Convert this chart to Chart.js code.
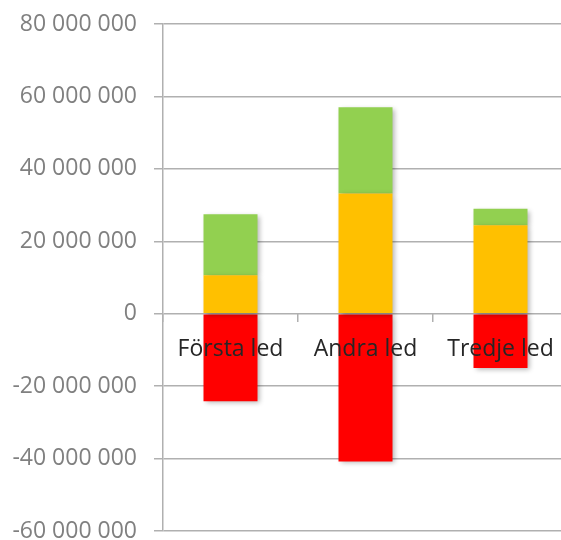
<!DOCTYPE html>
<html>
<head>
<meta charset="utf-8">
<script src="https://cdn.jsdelivr.net/npm/chart.js@4"></script>
<style>
  html, body { margin: 0; padding: 0; background: #fff; overflow: hidden; }
  #wrap { width: 570px; height: 540px; }
</style>
</head>
<body>
<div id="wrap"><canvas id="chart" width="570" height="540"></canvas></div>
<script>
// Categories and series values (millions)
const categories = ["Första led", "Andra led", "Tredje led"];
const orangeValues = [10.6, 33.2, 24.4];
const greenValues = [16.9, 23.8, 4.6];
const redValues = [-24.2, -40.8, -15.0];

// Axis settings
const yMin = -60000000;
const yMax = 80000000;
const yStep = 20000000;

const toUnits = arr => arr.map(v => v * 1000000);

// Format like "80 000 000"
function formatNumber(v) {
    const s = Math.abs(v).toString().replace(/\B(?=(\d{3})+(?!\d))/g, " ");
    return (v < 0 ? "-" : "") + s;
}

// Soft shadow behind bars
const barShadow = {
    id: "barShadow",
    beforeDatasetsDraw(chart) {
        const c = chart.ctx;
        c.save();
        c.shadowColor = "rgba(0,0,0,0.30)";
        c.shadowBlur = 5;
        c.shadowOffsetX = 2;
        c.shadowOffsetY = 2;
    },
    afterDatasetsDraw(chart) {
        chart.ctx.restore();
    }
};

const ctx = document.getElementById("chart");

new Chart(ctx, {
    type: "bar",
    data: {
        labels: categories,
        datasets: [
            { label: "Orange", data: toUnits(orangeValues), backgroundColor: "#FFC000" },
            { label: "Grön", data: toUnits(greenValues), backgroundColor: "#92D050" },
            { label: "Röd", data: toUnits(redValues), backgroundColor: "#FF0000" }
        ]
    },
    plugins: [barShadow],
    options: {
        responsive: false,
        animation: false,
        layout: { padding: { left: 0, top: 24, right: 2, bottom: 9 } },
        datasets: {
            bar: { barPercentage: 0.4, categoryPercentage: 1.0 }
        },
        plugins: {
            legend: { display: false },
            tooltip: { enabled: false }
        },
        scales: {
            x: {
                stacked: true,
                position: { y: 0 },
                offset: true,
                grid: {
                    offset: true,
                    drawOnChartArea: false,
                    drawTicks: true,
                    tickLength: 8,
                    color: "#b0b0b0",
                    lineWidth: 1.5
                },
                border: { display: false },
                ticks: {
                    z: 1,
                    color: "#262626",
                    padding: 14,
                    maxRotation: 0,
                    font: { family: "Open Sans", size: 23 }
                },
                afterFit(s) {
                    s.paddingLeft = 0;
                    s.paddingRight = 0;
                }
            },
            y: {
                stacked: true,
                min: yMin,
                max: yMax,
                grid: {
                    color: "#b0b0b0",
                    lineWidth: 1.5,
                    tickLength: 9
                },
                border: { color: "#b0b0b0", width: 1.5 },
                ticks: {
                    stepSize: yStep,
                    color: "#808080",
                    padding: 17,
                    font: { family: "Open Sans", size: 23 },
                    callback: v => formatNumber(v)
                },
                afterFit(s) {
                    s.width = 163;
                    s.paddingTop = 0;
                    s.paddingBottom = 0;
                }
            }
        }
    }
});
</script>
</body>
</html>
